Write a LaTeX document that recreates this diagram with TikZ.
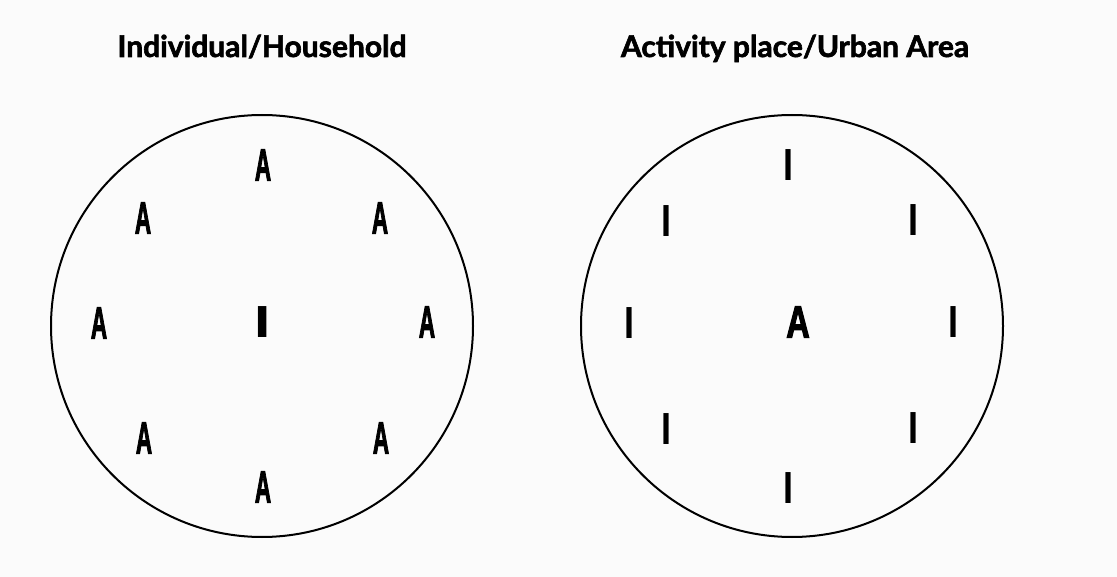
\documentclass[tikz,border=0pt]{standalone}
\usepackage{fontspec}
\setmainfont{Liberation Sans}
\newfontfamily\titlefont{Lato}[BoldFeatures={FakeBold=2}]
\newfontfamily\heavyfont{Liberation Sans}[BoldFeatures={FakeBold=3}]
\definecolor{bgcol}{RGB}{251,251,251}
\newcommand\lettA{\scalebox{0.5}[1]{A}}
\newcommand\bigA{\scalebox{0.72}[1]{A}}
\newcommand\thinI{\scalebox{0.8}[1]{I}}
\newcommand\fatI{\scalebox{1.3}[1]{I}}
\begin{document}
\begin{tikzpicture}[x=1pt,y=-1pt,
  ring/.style={circle, draw=black, line width=2pt, minimum size=422pt, inner sep=0pt},
  letterA/.style={font=\heavyfont\fontsize{45}{45}\selectfont\bfseries, inner sep=0pt},
  letterI/.style={font=\fontsize{45}{45}\selectfont\bfseries, inner sep=0pt},
  heading/.style={font=\titlefont\fontsize{30}{30}\selectfont\bfseries, inner sep=0pt, anchor=base}]
\fill[bgcol] (0,0) rectangle (1117,577);
\useasboundingbox (0,0) rectangle (1117,577);
% titles
\node[heading] (t1) at (262,57) {Individual/Household};
\node[heading] (t2) at (795,57) {Activity place/Urban Area};
% left circle
\node[ring] (c1) at (262,326) {};
\node[letterA] (la1) at (263,165) {\lettA};
\node[letterA] (la2) at (143,218) {\lettA};
\node[letterA] (la3) at (380,218) {\lettA};
\node[letterA] (la4) at (99,323) {\lettA};
\node[letterI] (li0) at (263,322) {\fatI};
\node[letterA] (la5) at (427,322) {\lettA};
\node[letterA] (la6) at (144,438) {\lettA};
\node[letterA] (la7) at (381,438) {\lettA};
\node[letterA] (la8) at (263,487) {\lettA};
% right circle
\node[ring] (c2) at (792,326) {};
\node[letterI] (ri1) at (788,165) {\thinI};
\node[letterI] (ri2) at (666,221) {\thinI};
\node[letterI] (ri3) at (913,220) {\thinI};
\node[letterI] (ri4) at (629,323) {\thinI};
\node[letterA] (ra0) at (798,322) {\bigA};
\node[letterI] (ri5) at (953,322) {\thinI};
\node[letterI] (ri6) at (666,429) {\thinI};
\node[letterI] (ri7) at (913,428) {\thinI};
\node[letterI] (ri8) at (788,488) {\thinI};
\end{tikzpicture}
\end{document}
